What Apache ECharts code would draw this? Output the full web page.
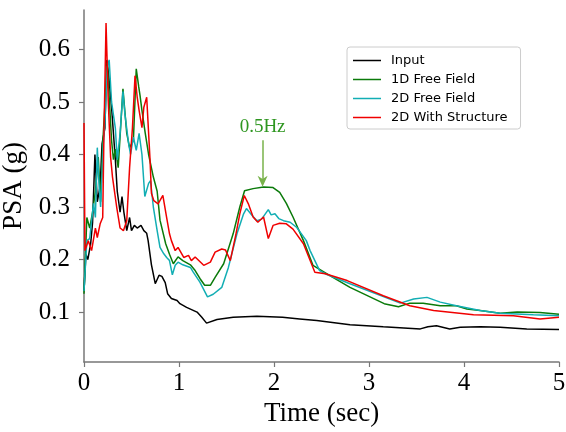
<!DOCTYPE html>
<html>
<head>
    <meta charset="utf-8">
    <title>PSA</title>
    <script src="https://cdn.jsdelivr.net/npm/echarts@6/dist/echarts.min.js"></script>
</head>
<body style="margin:0">
    <div id="main" style="width:566px;height:432px;"></div>
    <script type="text/javascript">
// [time (sec), PSA (g)]
var input = [
    [0.00,0.14],[0.02,0.21],[0.04,0.20],[0.07,0.23],[0.09,0.27],[0.115,0.40],[0.14,0.31],
    [0.17,0.34],[0.19,0.42],[0.22,0.45],[0.24,0.58],[0.26,0.55],[0.29,0.49],[0.33,0.39],
    [0.35,0.33],[0.38,0.29],[0.40,0.32],[0.42,0.29],[0.45,0.255],[0.48,0.28],[0.50,0.255],
    [0.53,0.265],[0.56,0.26],[0.60,0.265],[0.63,0.255],[0.66,0.25],[0.675,0.236],[0.71,0.19],
    [0.75,0.154],[0.79,0.17],[0.82,0.168],[0.855,0.156],[0.88,0.135],[0.92,0.126],[0.98,0.122],
    [1.01,0.116],[1.08,0.109],[1.19,0.10],[1.24,0.09],[1.29,0.079],[1.40,0.086],[1.57,0.09],
    [1.82,0.092],[2.09,0.09],[2.27,0.087],[2.45,0.084],[2.80,0.076],[3.15,0.072],[3.54,0.068],
    [3.62,0.072],[3.71,0.074],[3.85,0.068],[3.96,0.071],[4.17,0.072],[4.38,0.071],[4.66,0.068],
    [5.00,0.067]
];
var freeField1D = [
    [0.00,0.135],[0.03,0.28],[0.06,0.26],[0.09,0.29],[0.12,0.33],[0.15,0.395],[0.175,0.31],
    [0.197,0.42],[0.245,0.575],[0.29,0.427],[0.31,0.39],[0.33,0.41],[0.36,0.375],[0.41,0.525],
    [0.45,0.44],[0.48,0.413],[0.52,0.427],[0.55,0.563],[0.575,0.53],[0.59,0.512],[0.61,0.484],
    [0.645,0.44],[0.68,0.40],[0.73,0.357],[0.745,0.357],[0.77,0.33],[0.80,0.275],[0.86,0.23],
    [0.90,0.21],[0.94,0.192],[0.99,0.205],[1.04,0.198],[1.12,0.19],[1.17,0.179],[1.22,0.164],
    [1.27,0.151],[1.33,0.151],[1.38,0.166],[1.47,0.192],[1.57,0.249],[1.64,0.30],[1.69,0.331],
    [1.78,0.335],[1.89,0.338],[1.99,0.337],[2.06,0.328],[2.13,0.307],[2.20,0.281],[2.31,0.236],
    [2.41,0.189],[2.62,0.166],[2.80,0.147],[3.16,0.116],[3.31,0.11],[3.43,0.117],[3.57,0.117],
    [3.75,0.112],[3.92,0.112],[4.03,0.106],[4.17,0.103],[4.38,0.098],[4.56,0.10],[4.80,0.099],
    [5.00,0.096]
];
var freeField2D = [
    [0.00,0.14],[0.03,0.236],[0.06,0.24],[0.10,0.307],[0.12,0.28],[0.14,0.413],[0.16,0.337],
    [0.175,0.30],[0.203,0.42],[0.22,0.46],[0.245,0.566],[0.265,0.58],[0.29,0.50],[0.33,0.45],
    [0.35,0.39],[0.38,0.44],[0.41,0.52],[0.43,0.478],[0.47,0.42],[0.49,0.40],[0.52,0.433],
    [0.55,0.408],[0.58,0.44],[0.61,0.40],[0.64,0.32],[0.68,0.345],[0.70,0.35],[0.73,0.30],
    [0.77,0.255],[0.80,0.223],[0.84,0.211],[0.87,0.204],[0.90,0.198],[0.93,0.171],[0.96,0.189],
    [0.99,0.195],[1.04,0.19],[1.12,0.185],[1.15,0.176],[1.22,0.157],[1.30,0.129],[1.36,0.134],
    [1.45,0.147],[1.52,0.185],[1.61,0.249],[1.68,0.287],[1.71,0.297],[1.77,0.284],[1.82,0.274],
    [1.87,0.277],[1.94,0.295],[1.97,0.285],[2.01,0.287],[2.05,0.278],[2.10,0.274],[2.17,0.271],
    [2.24,0.261],[2.34,0.236],[2.38,0.217],[2.48,0.179],[2.55,0.172],[2.80,0.154],[3.33,0.117],
    [3.47,0.125],[3.61,0.128],[3.75,0.119],[3.92,0.112],[4.17,0.103],[4.38,0.098],[4.73,0.095],
    [5.00,0.093]
];
var withStructure2D = [
    [0.00,0.46],[0.01,0.217],[0.045,0.236],[0.08,0.217],[0.12,0.26],[0.14,0.242],[0.17,0.268],
    [0.197,0.28],[0.21,0.44],[0.232,0.65],[0.255,0.503],[0.28,0.395],[0.30,0.357],[0.32,0.36],
    [0.344,0.30],[0.38,0.26],[0.415,0.255],[0.45,0.274],[0.48,0.375],[0.51,0.451],[0.537,0.55],
    [0.56,0.509],[0.58,0.484],[0.61,0.451],[0.63,0.49],[0.66,0.509],[0.695,0.39],[0.71,0.326],
    [0.735,0.312],[0.78,0.306],[0.83,0.322],[0.87,0.28],[0.90,0.249],[0.92,0.236],[0.96,0.217],
    [0.99,0.223],[1.05,0.204],[1.10,0.208],[1.13,0.198],[1.17,0.205],[1.26,0.189],[1.33,0.195],
    [1.38,0.214],[1.45,0.22],[1.49,0.218],[1.54,0.198],[1.60,0.249],[1.64,0.287],[1.687,0.322],
    [1.73,0.306],[1.78,0.281],[1.83,0.271],[1.89,0.281],[1.94,0.24],[1.99,0.265],[2.06,0.269],
    [2.13,0.268],[2.20,0.258],[2.31,0.23],[2.43,0.176],[2.54,0.173],[2.77,0.16],[3.15,0.131],
    [3.43,0.112],[3.68,0.103],[4.10,0.095],[4.52,0.093],[4.80,0.087],[5.00,0.09]
];
var yTicks = [0.1, 0.2, 0.3, 0.4, 0.5, 0.6];
// annotation arrow: [time, PSA] of start and tip
var arrowFrom = [1.88, 0.427];
var arrowTo = [1.88, 0.349];

var chart = echarts.init(document.getElementById('main'));
var serif = '"Liberation Serif", "Times New Roman", serif';
var lineIcon = 'path://M0,0H28V1.5H0Z';

function line(name, data, color) {
    return {
        type: 'line', name: name, data: data,
        symbol: 'none', smooth: false,
        lineStyle: {color: color, width: 1.5},
        itemStyle: {color: color}
    };
}

var green = line('1D Free Field', freeField1D, '#0a7a0a');
green.markLine = {
    silent: true,
    symbol: ['none', 'path://M5,0L10,10L5,7L0,10Z'],
    symbolSize: [10, 11],
    lineStyle: {color: '#78b24a', width: 1.5, type: 'solid'},
    label: {
        show: true, position: 'start', formatter: '0.5Hz', distance: 4,
        color: '#2e9620', fontFamily: serif, fontSize: 19
    },
    data: [[{coord: arrowFrom}, {coord: arrowTo}]]
};

option = {
    animation: false,
    grid: {left: 84, right: 7, top: 10, bottom: 70, outerBoundsMode: 'none'},
    legend: {
        orient: 'vertical', left: 347, top: 47,
        padding: [7, 13, 5, 6], itemGap: 6, itemWidth: 28, itemHeight: 14,
        icon: lineIcon, symbolKeepAspect: true,
        borderColor: '#cccccc', borderWidth: 1, borderRadius: 3,
        textStyle: {fontFamily: 'DejaVu Sans', fontSize: 13, color: '#000', padding: [0, 0, 0, 5]},
        data: ['Input', '1D Free Field', '2D Free Field', '2D With Structure']
    },
    xAxis: {
        type: 'value', min: 0, max: 5, interval: 1,
        name: 'Time (sec)', nameLocation: 'middle', nameGap: 36,
        nameTextStyle: {fontFamily: serif, fontSize: 27, color: '#000'},
        axisLine: {show: true, lineStyle: {color: '#777', width: 1.5}},
        axisTick: {show: true, length: 5, lineStyle: {color: '#777', width: 1.2}},
        axisLabel: {fontFamily: serif, fontSize: 25, color: '#000', margin: 9},
        splitLine: {show: false}
    },
    yAxis: {
        type: 'value', min: 0.005, max: 0.675,
        name: 'PSA (g)', nameLocation: 'middle', nameGap: 45,
        nameTextStyle: {fontFamily: serif, fontSize: 27, color: '#000'},
        axisLine: {show: true, lineStyle: {color: '#777', width: 1.5}},
        axisTick: {show: true, length: 5, customValues: yTicks, lineStyle: {color: '#777', width: 1.2}},
        axisLabel: {
            fontFamily: serif, fontSize: 25, color: '#000', margin: 14,
            customValues: yTicks,
            formatter: function (v) { return v.toFixed(1); }
        },
        splitLine: {show: false}
    },
    series: [
        line('Input', input, '#000000'),
        green,
        line('2D Free Field', freeField2D, '#12aeb4'),
        line('2D With Structure', withStructure2D, '#f00000')
    ]
};

chart.setOption(option);
    </script>
</body>
</html>
